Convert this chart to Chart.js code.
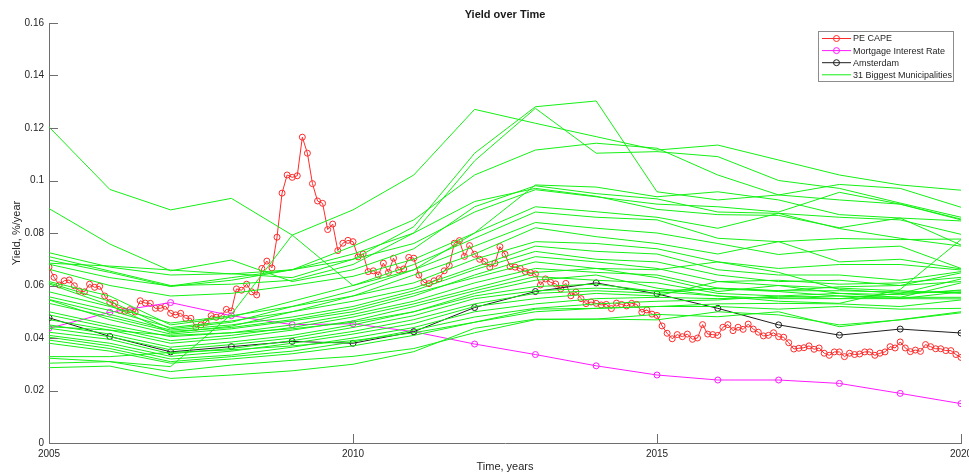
<!DOCTYPE html>
<html>
<head>
<meta charset="utf-8">
<title>Yield over Time</title>
<script src="https://cdn.jsdelivr.net/npm/chart.js@4/dist/chart.umd.min.js"></script>
<style>
  html, body { margin: 0; padding: 0; background: #ffffff; }
  #wrap { width: 969px; height: 473px; }
</style>
</head>
<body>
<div id="wrap"><canvas id="yieldChart" width="969" height="473"></canvas></div>
<script>
// ---- data -------------------------------------------------------------
// Annual observation years (municipalities, Amsterdam, mortgage rate)
const years = [2005, 2006, 2007, 2008, 2009, 2010, 2011, 2012, 2013, 2014, 2015, 2016, 2017, 2018, 2019, 2020];

// Monthly PE CAPE based yield, January 2005 .. January 2020
const peCapeStart = 2005;
const peCape = [
  0.0670, 0.0631, 0.0602, 0.0618, 0.0621, 0.0599, 0.0579, 0.0576, 0.0605, 0.0593, 0.0597, 0.0560,
  0.0535, 0.0532, 0.0505, 0.0502, 0.0508, 0.0499, 0.0542, 0.0533, 0.0532, 0.0513, 0.0513, 0.0521,
  0.0494, 0.0488, 0.0494, 0.0475, 0.0475, 0.0441, 0.0450, 0.0460, 0.0485, 0.0479, 0.0484, 0.0509,
  0.0503, 0.0587, 0.0582, 0.0605, 0.0576, 0.0564, 0.0665, 0.0693, 0.0667, 0.0784, 0.0952, 0.1021,
  0.1012, 0.1018, 0.1165, 0.1104, 0.0988, 0.0922, 0.0913, 0.0813, 0.0834, 0.0733, 0.0761, 0.0772,
  0.0767, 0.0709, 0.0720, 0.0653, 0.0656, 0.0640, 0.0685, 0.0650, 0.0704, 0.0659, 0.0663, 0.0707,
  0.0704, 0.0640, 0.0612, 0.0607, 0.0618, 0.0626, 0.0656, 0.0676, 0.0761, 0.0771, 0.0711, 0.0752,
  0.0719, 0.0700, 0.0691, 0.0670, 0.0685, 0.0748, 0.0719, 0.0672, 0.0670, 0.0665, 0.0653, 0.0649,
  0.0644, 0.0602, 0.0625, 0.0612, 0.0606, 0.0587, 0.0608, 0.0561, 0.0575, 0.0550, 0.0531, 0.0537,
  0.0532, 0.0526, 0.0528, 0.0512, 0.0533, 0.0528, 0.0522, 0.0532, 0.0528, 0.0498, 0.0507, 0.0491,
  0.0486, 0.0446, 0.0418, 0.0397, 0.0413, 0.0405, 0.0415, 0.0395, 0.0400, 0.0451, 0.0415, 0.0413,
  0.0410, 0.0441, 0.0451, 0.0428, 0.0441, 0.0433, 0.0453, 0.0434, 0.0422, 0.0408, 0.0410, 0.0420,
  0.0405, 0.0403, 0.0382, 0.0358, 0.0361, 0.0363, 0.0370, 0.0357, 0.0362, 0.0342, 0.0334, 0.0347,
  0.0347, 0.0329, 0.0342, 0.0337, 0.0339, 0.0347, 0.0347, 0.0334, 0.0342, 0.0347, 0.0367, 0.0362,
  0.0385, 0.0362, 0.0348, 0.0354, 0.0349, 0.0375, 0.0367, 0.0359, 0.0359, 0.0352, 0.0352, 0.0337,
  0.0326
];

const mortgageRate = [0.0437, 0.0498, 0.0535, 0.0485, 0.0451, 0.0454, 0.0424, 0.0377, 0.0337, 0.0294, 0.0259, 0.0240, 0.0240, 0.0227, 0.0189, 0.0150];

const amsterdam = [0.0477, 0.0406, 0.0347, 0.0367, 0.0387, 0.0380, 0.0424, 0.0516, 0.0577, 0.0610, 0.0568, 0.0513, 0.0450, 0.0411, 0.0434, 0.0419];

// Rental yield of the 31 biggest municipalities, one row per municipality
const municipalities = [
  [0.0304, 0.0310, 0.0291, 0.0490, 0.0792, 0.0888, 0.1021, 0.1271, 0.1218, 0.1167, 0.1116, 0.1135, 0.1078, 0.1021, 0.0983, 0.0963],
  [0.0725, 0.0670, 0.0640, 0.0645, 0.0630, 0.0700, 0.0824, 0.1104, 0.1281, 0.1303, 0.0957, 0.0926, 0.0945, 0.0985, 0.0970, 0.0898],
  [0.0710, 0.0655, 0.0600, 0.0605, 0.0620, 0.0680, 0.0800, 0.1075, 0.1275, 0.1104, 0.1110, 0.1091, 0.1000, 0.0970, 0.0914, 0.0860],
  [0.0697, 0.0650, 0.0596, 0.0620, 0.0660, 0.0750, 0.0850, 0.1021, 0.1116, 0.1142, 0.1123, 0.1021, 0.0945, 0.0926, 0.0910, 0.0853],
  [0.1204, 0.0966, 0.0888, 0.0932, 0.0792, 0.0600, 0.0660, 0.0800, 0.0983, 0.0975, 0.0938, 0.0957, 0.0926, 0.0870, 0.0857, 0.0846],
  [0.0893, 0.0758, 0.0656, 0.0697, 0.0615, 0.0660, 0.0740, 0.0900, 0.0980, 0.0950, 0.0930, 0.0880, 0.0875, 0.0860, 0.0850, 0.0795],
  [0.0685, 0.0674, 0.0659, 0.0644, 0.0660, 0.0720, 0.0800, 0.0920, 0.0970, 0.0940, 0.0890, 0.0870, 0.0867, 0.0820, 0.0857, 0.0754],
  [0.0681, 0.0630, 0.0598, 0.0630, 0.0660, 0.0700, 0.0760, 0.0880, 0.0965, 0.0938, 0.0910, 0.0900, 0.0880, 0.0955, 0.0910, 0.0850],
  [0.0662, 0.0600, 0.0560, 0.0570, 0.0600, 0.0635, 0.0700, 0.0800, 0.0900, 0.0881, 0.0860, 0.0818, 0.0875, 0.0817, 0.0780, 0.0750],
  [0.0615, 0.0560, 0.0450, 0.0480, 0.0540, 0.0600, 0.0680, 0.0780, 0.0880, 0.0860, 0.0850, 0.0780, 0.0767, 0.0779, 0.0775, 0.0777],
  [0.0610, 0.0540, 0.0435, 0.0460, 0.0520, 0.0580, 0.0660, 0.0750, 0.0840, 0.0818, 0.0800, 0.0760, 0.0718, 0.0740, 0.0750, 0.0665],
  [0.0606, 0.0525, 0.0420, 0.0445, 0.0500, 0.0560, 0.0640, 0.0720, 0.0820, 0.0786, 0.0760, 0.0720, 0.0767, 0.0690, 0.0700, 0.0663],
  [0.0576, 0.0520, 0.0457, 0.0485, 0.0520, 0.0560, 0.0610, 0.0700, 0.0767, 0.0760, 0.0740, 0.0690, 0.0665, 0.0680, 0.0680, 0.0659],
  [0.0557, 0.0505, 0.0440, 0.0465, 0.0500, 0.0540, 0.0590, 0.0670, 0.0750, 0.0730, 0.0720, 0.0660, 0.0640, 0.0640, 0.0620, 0.0653],
  [0.0547, 0.0490, 0.0430, 0.0450, 0.0480, 0.0520, 0.0580, 0.0660, 0.0730, 0.0700, 0.0690, 0.0640, 0.0615, 0.0620, 0.0600, 0.0648],
  [0.0545, 0.0470, 0.0415, 0.0435, 0.0465, 0.0500, 0.0560, 0.0640, 0.0710, 0.0690, 0.0665, 0.0615, 0.0620, 0.0605, 0.0610, 0.0631],
  [0.0532, 0.0480, 0.0425, 0.0440, 0.0470, 0.0510, 0.0570, 0.0630, 0.0690, 0.0665, 0.0660, 0.0690, 0.0650, 0.0585, 0.0570, 0.0625],
  [0.0500, 0.0450, 0.0405, 0.0420, 0.0450, 0.0490, 0.0540, 0.0610, 0.0665, 0.0650, 0.0640, 0.0590, 0.0580, 0.0595, 0.0600, 0.0615],
  [0.0488, 0.0440, 0.0390, 0.0410, 0.0440, 0.0480, 0.0530, 0.0590, 0.0650, 0.0665, 0.0630, 0.0577, 0.0600, 0.0570, 0.0555, 0.0610],
  [0.0470, 0.0430, 0.0380, 0.0400, 0.0430, 0.0465, 0.0520, 0.0580, 0.0634, 0.0620, 0.0610, 0.0570, 0.0560, 0.0570, 0.0565, 0.0583],
  [0.0450, 0.0415, 0.0365, 0.0385, 0.0410, 0.0450, 0.0500, 0.0570, 0.0620, 0.0640, 0.0590, 0.0560, 0.0550, 0.0550, 0.0570, 0.0580],
  [0.0443, 0.0430, 0.0410, 0.0420, 0.0435, 0.0460, 0.0500, 0.0560, 0.0596, 0.0605, 0.0577, 0.0560, 0.0540, 0.0532, 0.0585, 0.0775],
  [0.0437, 0.0405, 0.0355, 0.0375, 0.0400, 0.0440, 0.0485, 0.0550, 0.0580, 0.0590, 0.0580, 0.0588, 0.0577, 0.0560, 0.0550, 0.0576],
  [0.0422, 0.0395, 0.0340, 0.0360, 0.0390, 0.0425, 0.0470, 0.0530, 0.0570, 0.0580, 0.0570, 0.0590, 0.0580, 0.0580, 0.0575, 0.0573],
  [0.0410, 0.0380, 0.0330, 0.0350, 0.0380, 0.0415, 0.0455, 0.0520, 0.0550, 0.0570, 0.0560, 0.0615, 0.0600, 0.0590, 0.0580, 0.0570],
  [0.0403, 0.0370, 0.0320, 0.0335, 0.0365, 0.0400, 0.0440, 0.0500, 0.0530, 0.0550, 0.0555, 0.0550, 0.0555, 0.0560, 0.0555, 0.0555],
  [0.0392, 0.0360, 0.0310, 0.0329, 0.0350, 0.0385, 0.0430, 0.0480, 0.0513, 0.0530, 0.0540, 0.0545, 0.0560, 0.0550, 0.0550, 0.0549],
  [0.0380, 0.0350, 0.0304, 0.0320, 0.0340, 0.0370, 0.0410, 0.0460, 0.0500, 0.0513, 0.0520, 0.0530, 0.0532, 0.0530, 0.0520, 0.0545],
  [0.0329, 0.0329, 0.0345, 0.0355, 0.0370, 0.0390, 0.0420, 0.0460, 0.0510, 0.0513, 0.0520, 0.0520, 0.0510, 0.0520, 0.0510, 0.0513],
  [0.0323, 0.0310, 0.0272, 0.0297, 0.0315, 0.0330, 0.0360, 0.0420, 0.0470, 0.0472, 0.0490, 0.0481, 0.0500, 0.0443, 0.0470, 0.0500],
  [0.0287, 0.0293, 0.0246, 0.0259, 0.0275, 0.0300, 0.0348, 0.0437, 0.0472, 0.0472, 0.0469, 0.0500, 0.0488, 0.0450, 0.0469, 0.0496]
];

const xTicks = [2005, 2010, 2015, 2020];
const yTicks = [0, 0.02, 0.04, 0.06, 0.08, 0.1, 0.12, 0.14, 0.16];

const titleText = 'Yield over Time';
const xLabel = 'Time, years';
const yLabel = 'Yield, %/year';
const seriesNames = ['PE CAPE', 'Mortgage Interest Rate', 'Amsterdam', '31 Biggest Municipalities'];

// ---- styling ----------------------------------------------------------
const FONT = '"Liberation Sans", Arial, Helvetica, sans-serif';
const RED = '#ff2b2b';
const MAGENTA = '#ff1aff';
const BLACK = '#1e1e1e';
const GREEN = '#14f014';
const AXIS = '#6e6e6e';
const TEXT = '#262626';

function toPoints(xs, ys) { return ys.map((v, i) => ({ x: xs[i], y: v })); }
const peCapePoints = peCape.map((v, i) => ({ x: peCapeStart + i / 12, y: v }));

const markerStyle = (color) => ({
  borderColor: color,
  borderWidth: 1,
  pointRadius: 3,
  pointStyle: 'circle',
  pointBorderColor: color,
  pointBackgroundColor: 'rgba(0,0,0,0)',
  pointBorderWidth: 1,
  fill: false,
  tension: 0
});

const datasets = [
  Object.assign({ label: seriesNames[0], data: peCapePoints, order: 3 }, markerStyle(RED)),
  Object.assign({ label: seriesNames[1], data: toPoints(years, mortgageRate), order: 2 }, markerStyle(MAGENTA)),
  Object.assign({ label: seriesNames[2], data: toPoints(years, amsterdam), order: 1 }, markerStyle(BLACK))
];
municipalities.forEach((row, i) => {
  datasets.push({
    label: i === 0 ? seriesNames[3] : '',
    data: toPoints(years, row),
    borderColor: GREEN,
    borderWidth: 1,
    pointRadius: 0,
    fill: false,
    tension: 0,
    order: 0
  });
});

// Inward tick marks, titles and the boxed legend
const decorations = {
  id: 'decorations',
  afterDraw(chart) {
    const ctx = chart.ctx;
    const area = chart.chartArea;
    const xs = chart.scales.x, ys = chart.scales.y;
    ctx.save();
    ctx.strokeStyle = AXIS;
    ctx.lineWidth = 1;
    ctx.beginPath();
    yTicks.forEach(v => {
      const y = Math.round(ys.getPixelForValue(v)) + 0.5;
      ctx.moveTo(area.left, y);
      ctx.lineTo(area.left + 9, y);
    });
    xTicks.forEach(v => {
      const x = Math.round(xs.getPixelForValue(v)) + 0.5;
      ctx.moveTo(x, area.bottom);
      ctx.lineTo(x, area.bottom - 9);
    });
    ctx.stroke();

    // chart title
    ctx.fillStyle = '#1a1a1a';
    ctx.textAlign = 'center';
    ctx.textBaseline = 'middle';
    ctx.font = 'bold 11px ' + FONT;
    ctx.fillText(titleText, (area.left + area.right) / 2, 15);

    // axis titles
    ctx.fillStyle = TEXT;
    ctx.font = '11px ' + FONT;
    ctx.fillText(xLabel, (area.left + area.right) / 2, 467);
    ctx.save();
    ctx.translate(17, (area.top + area.bottom) / 2);
    ctx.rotate(-Math.PI / 2);
    ctx.fillText(yLabel, 0, 0);
    ctx.restore();

    // legend
    const lx = 818.5, ly = 31.5, lw = 135, lh = 50;
    ctx.fillStyle = '#ffffff';
    ctx.fillRect(lx, ly, lw, lh);
    ctx.strokeStyle = '#8c8c8c';
    ctx.strokeRect(lx, ly, lw, lh);
    const colors = [RED, MAGENTA, BLACK, GREEN];
    ctx.font = '9px ' + FONT;
    ctx.textAlign = 'left';
    seriesNames.forEach((name, i) => {
      const y = 38.5 + i * 12.1;
      ctx.strokeStyle = colors[i];
      ctx.beginPath();
      ctx.moveTo(822, y);
      ctx.lineTo(851, y);
      ctx.stroke();
      if (i < 3) {
        ctx.beginPath();
        ctx.arc(836.5, y, 3, 0, Math.PI * 2);
        ctx.stroke();
      }
      ctx.fillStyle = TEXT;
      ctx.fillText(name, 853, y + 0.5);
    });
    ctx.restore();
  }
};

Chart.defaults.font.family = FONT;

new Chart(document.getElementById('yieldChart'), {
  type: 'line',
  data: { datasets },
  options: {
    responsive: false,
    devicePixelRatio: 1,
    animation: false,
    layout: { padding: { left: 0, right: 8, top: 23, bottom: 0 } },
    plugins: {
      legend: { display: false },
      title: { display: false },
      tooltip: { enabled: false }
    },
    scales: {
      x: {
        type: 'linear',
        min: 2005,
        max: 2020,
        grid: { display: false, drawTicks: false },
        border: { display: true, color: AXIS, width: 1 },
        ticks: {
          stepSize: 5,
          color: TEXT,
          font: { size: 10 },
          padding: 5,
          maxRotation: 0,
          autoSkip: false,
          callback: v => String(v)
        },
        afterFit(s) { s.height = 30; s.paddingLeft = 0; s.paddingRight = 0; }
      },
      y: {
        type: 'linear',
        min: 0,
        max: 0.16,
        grid: { display: false, drawTicks: false },
        border: { display: true, color: AXIS, width: 1 },
        ticks: {
          stepSize: 0.02,
          color: TEXT,
          font: { size: 10 },
          padding: 5,
          callback: v => String(Number(v.toFixed(2)))
        },
        afterFit(s) { s.width = 49; s.paddingTop = 0; s.paddingBottom = 0; }
      }
    }
  },
  plugins: [decorations]
});
</script>
</body>
</html>
